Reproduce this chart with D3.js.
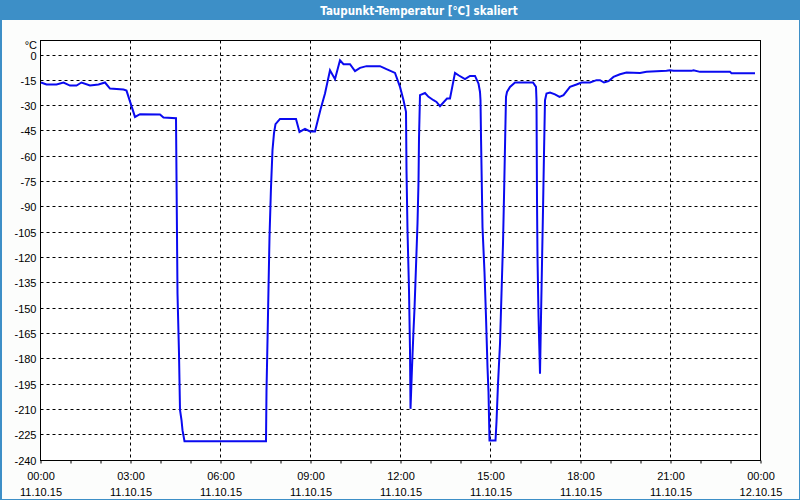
<!DOCTYPE html>
<html><head><meta charset="utf-8">
<script src="https://cdn.jsdelivr.net/npm/d3@7"></script>
<style>body{margin:0;background:#fcfdfc;}svg{display:block;}</style>
</head><body>
<svg id="chart" width="800" height="500"></svg>
<script>
const titleText = "Taupunkt-Temperatur [°C] skaliert";
const unitLabel = "°C";
// minutes after 11.10.15 00:00
const timeMinutes = [1,12,32,46,59,72,82,99,116,129,139,166,172,189,199,239,246,271,272,273,274,277,279,282,284,288,
451,452,454,456,458,461,464,467,470,479,511,518,529,539,549,560,569,579,589,599,606,619,629,639,652,679,692,709,719,726,731,
732,734,737,739,740,743,746,748,751,754,756,757,759,769,776,786,792,799,813,819,829,836,849,859,869,876,879,880,
881,884,888,891,894,896,898,910,912,915,919,922,925,927,929,931,933,939,949,985,991,992,
993,994,996,999,1001,1003,1005,1007,1009,1012,1019,1029,1038,1046,1059,1072,1082,1099,1112,1119,1127,1136,1146,1159,1172,1199,1212,1252,1259,1266,1302,1306,1319,1379,1382,1429];
const dewPoint = [-16,-17.2,-17.2,-16,-17.8,-17.8,-16,-17.8,-17.2,-16,-19.6,-20.2,-20.8,-36.4,-34.8,-35,-36.8,-37.2,-71.6,-106,-141,-176.7,-210,-216,-222,-228.6,
-228.6,-198.5,-169,-138,-107.6,-78,-56,-46,-40.7,-37.6,-37.6,-45.3,-43.5,-45,-45,-32,-22.5,-8.7,-14,-2.8,-5.2,-5.2,-9.3,-7.3,-6.3,-6.3,-8.1,-10.3,-18.6,-26.5,-33.4,
-68,-103.6,-139,-174.8,-209.4,-185,-163,-150,-125,-99.6,-75,-49,-23.5,-22.2,-24.5,-26.5,-27.5,-30,-25.5,-25.5,-10.3,-11.7,-14,-12.1,-12.1,-16.6,-21.6,-26.5,
-48,-101.7,-128.4,-155,-184.7,-199.5,-228.2,-228.2,-217,-194.6,-170.8,-141,-111.5,-83.9,-54,-24.5,-21.6,-18.6,-16,-16,-18.6,-26.5,
-85.8,-119.5,-154,-188.6,-155,-123.4,-91.8,-58,-26.5,-22.5,-22,-23,-24.5,-23.5,-18.6,-17.2,-16,-16,-14.6,-14.6,-16,-15.2,-12.7,-11.1,-10.1,-10.3,-9.7,-9.1,-8.7,-9.1,-9.1,-8.7,-9.7,-9.7,-10.5,-10.5];
const yTicks = [0,-15,-30,-45,-60,-75,-90,-105,-120,-135,-150,-165,-180,-195,-210,-225,-240];
const xTickHours = [0,3,6,9,12,15,18,21,24];
const xTickTimes = ["00:00","03:00","06:00","09:00","12:00","15:00","18:00","21:00","00:00"];
const xTickDates = ["11.10.15","11.10.15","11.10.15","11.10.15","11.10.15","11.10.15","11.10.15","11.10.15","12.10.15"];

const svg = d3.select("#chart");
const W = 800, H = 500;
const pLeft = 40.5, pRight = 760.5, pTop = 40.5, pBottom = 460.5;
const t0 = new Date(2015, 9, 11, 0, 0);
const toDate = m => new Date(t0.getTime() + m * 60000);
const x = d3.scaleTime().domain([t0, toDate(1440)]).range([pLeft, pRight]);
const y = d3.scaleLinear().domain([-240, 0]).range([pBottom, 55.5]);
const blue = "#3d8fc7";

svg.append("rect").attr("width", W).attr("height", H).attr("fill", "#fcfdfc");
// title bar
svg.append("rect").attr("x", 0).attr("y", 0).attr("width", W).attr("height", 20).attr("fill", blue);
svg.append("text").attr("x", 419).attr("y", 14.5).attr("text-anchor", "middle")
  .attr("fill", "#ffffff").attr("font-family", "'DejaVu Sans Condensed', 'DejaVu Sans', sans-serif")
  .attr("font-weight", "bold").attr("font-size", 11.5).text(titleText);
// window border
svg.append("rect").attr("x", 0.5).attr("y", 0.5).attr("width", W - 1).attr("height", H - 1)
  .attr("fill", "none").attr("stroke", blue).attr("stroke-width", 1);
svg.append("line").attr("x1", 1.5).attr("x2", 1.5).attr("y1", 20).attr("y2", H).attr("stroke", blue).attr("stroke-width", 1);

// plot background
svg.append("rect").attr("x", pLeft).attr("y", pTop).attr("width", pRight - pLeft).attr("height", pBottom - pTop).attr("fill", "#ffffff");

const font = "'Liberation Sans', Arial, sans-serif";
// y grid + labels
const yAxis = d3.axisLeft(y).tickValues(yTicks).tickSize(0).tickPadding(4).tickFormat(d => String(d));
const gy = svg.append("g").attr("transform", `translate(${pLeft},0)`).call(yAxis);
gy.select(".domain").remove();
gy.selectAll("text").attr("font-family", font).attr("font-size", 11).attr("fill", "#000").attr("x", -4);
svg.append("g").selectAll("line").data(yTicks).join("line")
  .attr("x1", pLeft).attr("x2", pRight)
  .attr("y1", d => Math.round(y(d)) - 0.5).attr("y2", d => Math.round(y(d)) - 0.5)
  .attr("stroke", "#000").attr("stroke-dasharray", "3,3").attr("stroke-width", 1);
svg.append("text").attr("x", 37).attr("y", 49).attr("text-anchor", "end")
  .attr("font-family", font).attr("font-size", 11).text(unitLabel);

// x grid
svg.append("g").selectAll("line").data(xTickHours.slice(1, -1)).join("line")
  .attr("x1", d => x(toDate(d * 60))).attr("x2", d => x(toDate(d * 60)))
  .attr("y1", pTop).attr("y2", pBottom)
  .attr("stroke", "#000").attr("stroke-dasharray", "3,3").attr("stroke-width", 1);

// minor ticks each hour
const xMinor = d3.axisBottom(x).tickValues(d3.range(0, 25).map(h => toDate(h * 60))).tickSize(3).tickFormat("");
const gm = svg.append("g").attr("transform", `translate(0,${pBottom})`).call(xMinor);
gm.select(".domain").remove();
gm.selectAll("line").attr("stroke", "#000");

// x labels
const xAxis = d3.axisBottom(x).tickValues(xTickHours.map(h => toDate(h * 60))).tickSize(0).tickFormat("");
const gx = svg.append("g").attr("transform", `translate(0,${pBottom})`).call(xAxis);
gx.select(".domain").remove();
gx.selectAll(".tick").each(function(d, i) {
  const g = d3.select(this);
  g.append("text").attr("y", 19).attr("text-anchor", "middle").attr("font-family", font)
    .attr("font-size", 11).attr("fill", "#000").text(xTickTimes[i]);
  g.append("text").attr("y", 35).attr("text-anchor", "middle").attr("font-family", font)
    .attr("font-size", 11).attr("fill", "#000").text(xTickDates[i]);
});

// frame
svg.append("rect").attr("x", pLeft).attr("y", pTop).attr("width", pRight - pLeft).attr("height", pBottom - pTop)
  .attr("fill", "none").attr("stroke", "#000").attr("stroke-width", 1);

// data line
const data = timeMinutes.map((m, i) => ({ t: toDate(m), v: dewPoint[i] }));
svg.append("path").datum(data)
  .attr("fill", "none").attr("stroke", "#0a0af0").attr("stroke-width", 2)
  .attr("d", d3.line().x(d => x(d.t)).y(d => y(d.v)));
</script>
</body></html>
